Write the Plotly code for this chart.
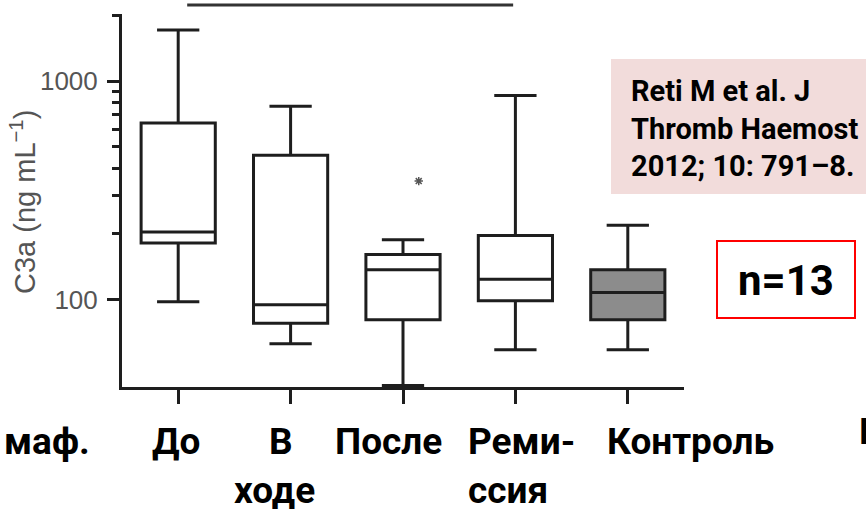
import plotly.graph_objects as go

# C3a concentrations (ng/mL) per group: box summary statistics
positions = [0, 1, 2, 3, 4]
lower_whisker = [98, 63, 40.5, 59, 59]
q1_vals = [182, 78, 81, 99, 81]
median_vals = [204, 95, 137, 124, 108]
q3_vals = [644, 458, 161, 197, 137]
upper_whisker = [1715, 768, 188, 860, 219]
box_fills = ["white", "white", "white", "white", "#8c8c8c"]

# single outlier in the "После" group
outlier_group = [2]
outlier_value = [349]

# y-axis ticks
major_ticks = [100, 1000]
major_labels = ["100", "1000"]
minor_ticks = [200, 300, 400, 500, 600, 700, 800, 900, 2000]

# group captions (two-line captions split into rows)
caption_row1 = ["маф.", "До", "В", "После", "Реми-", "Контроль", "П"]
caption_row2 = ["ходе", "ссия"]

citation = "Reti M et al. J<br>Thromb Haemost<br>2012; 10: 791–8."
sample_size = "n=13"

W, H = 866, 511
ML, MR, MT, MB = 122, 182, 14, 124
PW, PH = W - ML - MR, H - MT - MB


def px_x(px):
    return (px - ML) / PW


def px_y(py):
    return (H - MB - py) / PH


LINE = "#1e1e1e"
fig = go.Figure()

for i, pos in enumerate(positions):
    fig.add_trace(go.Box(
        x=[pos],
        q1=[q1_vals[i]], median=[median_vals[i]], q3=[q3_vals[i]],
        lowerfence=[lower_whisker[i]], upperfence=[upper_whisker[i]],
        boxpoints=False,
        width=0.66,
        whiskerwidth=0.57,
        fillcolor=box_fills[i],
        line=dict(color=LINE, width=3),
        showlegend=False,
        hoverinfo="skip",
    ))

fig.add_trace(go.Scatter(
    x=[g + 0.14 for g in outlier_group],
    y=outlier_value,
    mode="markers",
    marker=dict(symbol="asterisk-open", size=7, color="#555555",
                line=dict(color="#555555", width=1.5)),
    showlegend=False,
    hoverinfo="skip",
))

fig.update_layout(
    width=W, height=H,
    margin=dict(l=ML, r=MR, t=MT, b=MB, pad=0),
    paper_bgcolor="white",
    plot_bgcolor="white",
    showlegend=False,
)

fig.update_xaxes(
    range=[-0.5, 4.5],
    tickvals=positions,
    showticklabels=False,
    ticks="outside", ticklen=14, tickwidth=3, tickcolor=LINE,
    showline=True, linewidth=3, linecolor=LINE,
    showgrid=False, zeroline=False,
)

fig.update_yaxes(
    type="log",
    range=[1.601, 3.307],
    tickvals=major_ticks, ticktext=major_labels,
    ticks="outside", ticklen=12, tickwidth=3, tickcolor=LINE,
    ticklabelstandoff=4,
    tickfont=dict(family="Liberation Sans, Arial, sans-serif", size=26, color="#555555"),
    minor=dict(tickvals=minor_ticks, ticks="outside", ticklen=7,
               tickwidth=2.5, tickcolor=LINE, showgrid=False),
    showline=True, linewidth=3, linecolor=LINE,
    showgrid=False, zeroline=False,
)

# y-axis title
fig.add_annotation(
    text="C3a (ng mL<sup>−1</sup>)",
    xref="paper", yref="paper", x=px_x(23), y=px_y(202),
    xanchor="center", yanchor="middle",
    textangle=-90, showarrow=False,
    font=dict(family="Liberation Sans, Arial, sans-serif", size=29, color="#555555"),
)

# significance bar above the groups
fig.add_shape(type="line", xref="x", yref="paper",
              x0=0.08, x1=2.98, y0=px_y(5), y1=px_y(5),
              line=dict(color="#333333", width=3))

# citation panel
fig.add_shape(type="rect", xref="paper", yref="paper",
              x0=px_x(611), x1=px_x(880), y0=px_y(194), y1=px_y(59),
              fillcolor="#f2dcdb", line=dict(width=0), layer="below")
fig.add_annotation(
    text=citation, xref="paper", yref="paper",
    x=px_x(629), y=px_y(128), xanchor="left", yanchor="middle",
    align="left", showarrow=False,
    font=dict(family="Roboto, 'Noto Sans', sans-serif", size=29, color="black", weight="bold"),
)

# sample size box
fig.add_shape(type="rect", xref="paper", yref="paper",
              x0=px_x(717), x1=px_x(855), y0=px_y(318), y1=px_y(241),
              fillcolor="white", line=dict(color="#ff0000", width=2))
fig.add_annotation(
    text=sample_size, xref="paper", yref="paper",
    x=px_x(786), y=px_y(280), xanchor="center", yanchor="middle",
    showarrow=False,
    font=dict(family="Roboto, 'Noto Sans', sans-serif", size=42, color="black", weight="bold"),
)

# group captions below the axis
cap_font = dict(family="Roboto, 'Noto Sans', sans-serif", size=37, color="black", weight="bold")
row1_left = [2, 150, 267, 333, 466, 605, 857]
row1_y = [442, 442, 442, 442, 442, 442, 431]
for txt, lx, cy in zip(caption_row1, row1_left, row1_y):
    fig.add_annotation(text=txt, xref="paper", yref="paper",
                       x=px_x(lx), y=px_y(cy), xanchor="left", yanchor="middle",
                       showarrow=False, font=cap_font)
row2_left = [232, 466]
for txt, lx in zip(caption_row2, row2_left):
    fig.add_annotation(text=txt, xref="paper", yref="paper",
                       x=px_x(lx), y=px_y(490), xanchor="left", yanchor="middle",
                       showarrow=False, font=cap_font)

fig.write_html("out.html")
